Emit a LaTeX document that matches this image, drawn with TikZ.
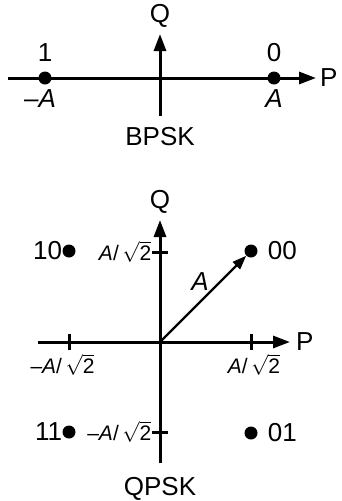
\documentclass[tikz,border=0pt]{standalone}
\usepackage{fontspec}
\setmainfont{Liberation Sans}
\usetikzlibrary{arrows.meta,positioning}
\newcommand\artwo{\textit{A}/\,$\sqrt{\mbox{2}}$}
\begin{document}
\begin{tikzpicture}[x=1pt,y=-1pt,
    axis/.style={line width=3pt,-{Triangle[length=17pt,width=12pt]}},
    tickline/.style={line width=3pt},
    vec/.style={line width=2.4pt,-{Triangle[length=14pt,width=10pt]}},
    dot/.style={circle,fill,inner sep=0pt,minimum size=13pt},
    lbl/.style={inner sep=0pt,font=\fontsize{26}{30}\selectfont},
    ticklbl/.style={inner sep=0pt,font=\fontsize{21}{25}\selectfont}]
    \useasboundingbox (0,0) rectangle (342,501);

    % BPSK axes
    \coordinate (bl) at (8,78);
    \coordinate (br) at (316,78);
    \coordinate (bb) at (160,116);
    \coordinate (bt) at (160,34);
    \draw[axis] (bl) -- (br);
    \draw[axis] (bb) -- (bt);
    \node[lbl,right=4pt of br] (bP) {P};
    \node[lbl,above=6pt of bt] (bQ) {Q};

    % BPSK symbols
    \node[dot] (b1) at (45,78) {};
    \node[dot] (b0) at (274,78) {};
    \node[lbl,above=9.5pt of b1] (b1t) {1};
    \node[lbl,above=9.5pt of b0] (b0t) {0};
    \node[lbl,below=4.5pt of b1,xshift=-5pt] (b1v) {--\textit{A}};
    \node[lbl,below=4.5pt of b0] (b0v) {\textit{A}};
    \node[lbl,below=11pt of bb] (bname) {BPSK};

    % QPSK axes
    \coordinate (O) at (160,342);
    \coordinate (ql) at (38,342);
    \coordinate (qr) at (290,342);
    \coordinate (qb) at (160,463);
    \coordinate (qt) at (160,220);
    \draw[axis] (ql) -- (qr);
    \draw[axis] (qb) -- (qt);
    \node[lbl,right=6pt of qr] (qP) {P};
    \node[lbl,above=6pt of qt] (qQ) {Q};

    % Ticks
    \coordinate (tx1) at (69,342);
    \coordinate (tx2) at (251,342);
    \coordinate (ty1) at (160,252);
    \coordinate (ty2) at (160,432);
    \draw[tickline] (tx1) ++(0,-8) -- ++(0,16);
    \draw[tickline] (tx2) ++(0,-8) -- ++(0,16);
    \draw[tickline] (ty1) ++(-8,0) -- ++(16,0);
    \draw[tickline] (ty2) ++(-8,0) -- ++(16,0);
    \node[ticklbl,below=12pt of tx1,xshift=-6.5pt] (lx1) {--\artwo};
    \node[ticklbl,below=12pt of tx2,xshift=3pt] (lx2) {\artwo};
    \node[ticklbl,left=8.5pt of ty1] (ly1) {\artwo};
    \node[ticklbl,left=8.5pt of ty2] (ly2) {--\artwo};

    % QPSK symbols
    \node[dot] (q10) at (69,251) {};
    \node[dot] (q00) at (251,251) {};
    \node[dot] (q11) at (69,432) {};
    \node[dot] (q01) at (251,433) {};
    \node[lbl,left=0pt of q10] (t10) {10};
    \node[lbl,right=10pt of q00] (t00) {00};
    \node[lbl,left=0pt of q11] (t11) {11};
    \node[lbl,right=10pt of q01] (t01) {01};

    % Amplitude vector
    \draw[vec] (O) -- (q00) node[lbl,midway,above=7pt,xshift=-3pt] (vA) {\textit{A}};

    \node[lbl,below=14pt of qb] (qname) {QPSK};
\end{tikzpicture}
\end{document}
